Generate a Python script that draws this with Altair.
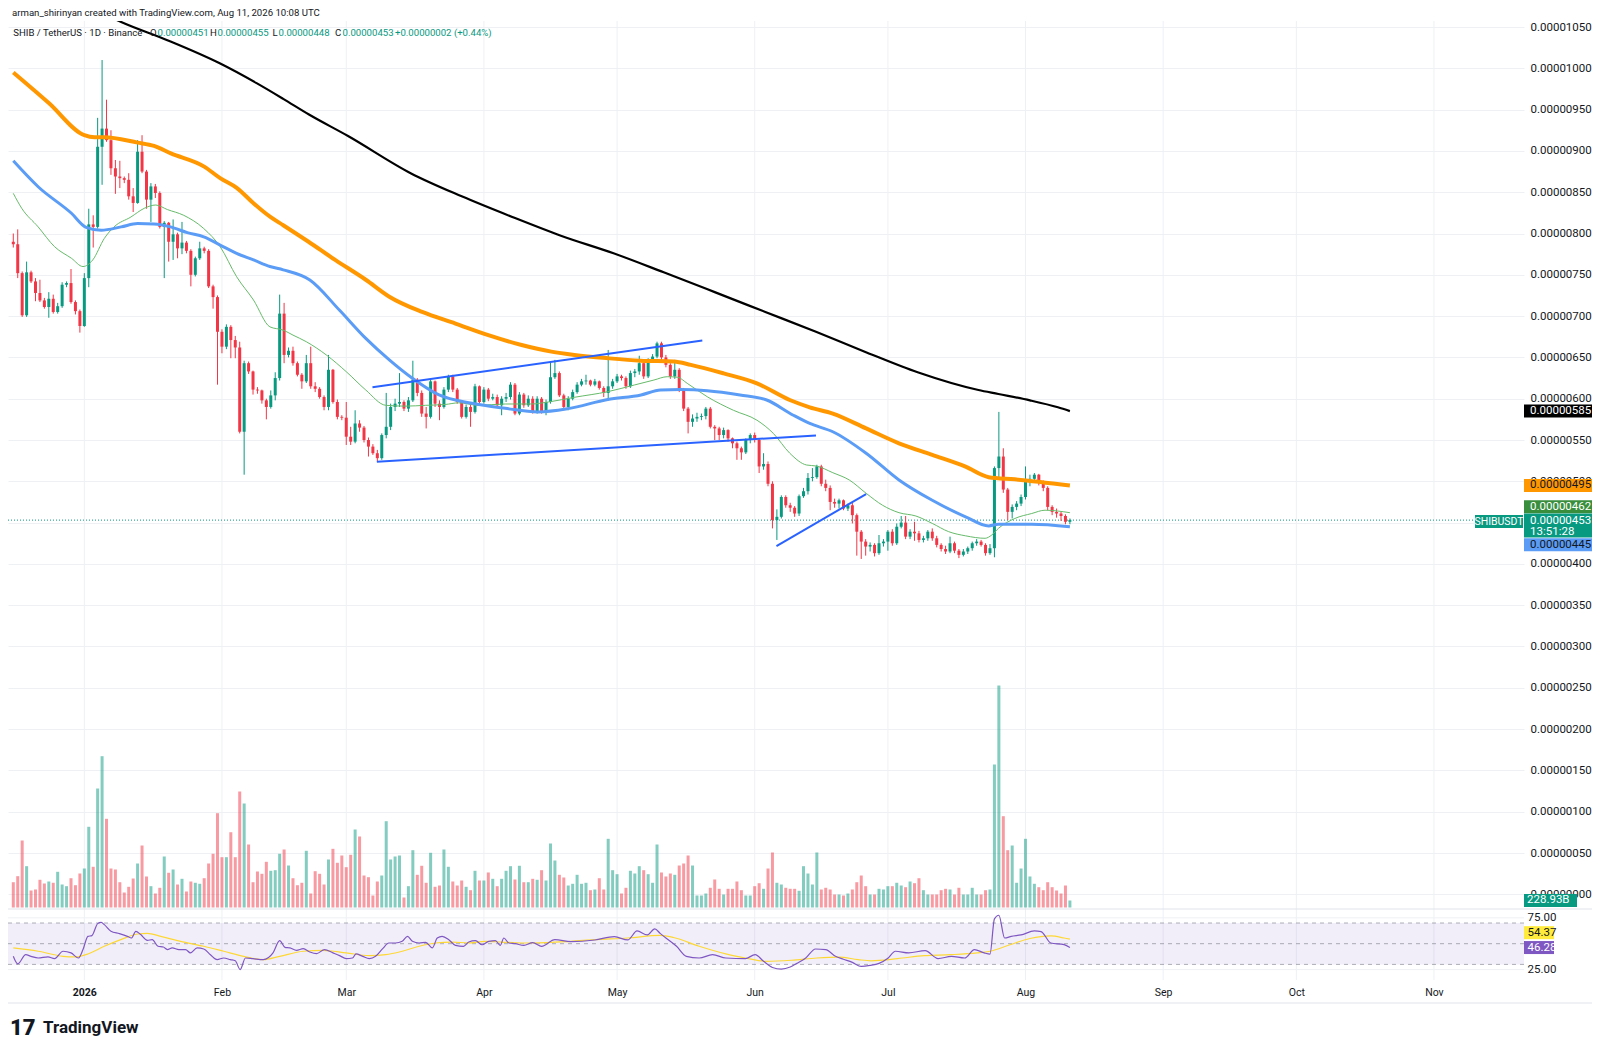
import altair as alt
import pandas as pd

FONT = "Roboto"
TEXT = "#131722"
UP = "#089981"
DOWN = "#f23645"
GRID = "#eef0f4"

W, H = 1516, 959

# ---------------- data (prices in units of 1e-8 USDT) ----------------
FIRST_DAY = -16          # day index relative to 2026-01-01 (=> 2025-12-16)
FIRST_OPEN = 790

close = [
    787, 752, 701, 753, 742, 728, 719, 711, 721, 705,
    712, 738, 740, 717, 706, 688, 746, 811, 808, 905,
    927, 913, 879, 869, 867, 865, 845, 837, 899, 875,
    841, 857, 849, 808, 813, 790, 799, 782, 789, 779,
    750, 770, 782, 779, 736, 723, 681, 663, 687, 671,
    662, 560, 643, 633, 611, 610, 598, 590, 604, 625,
    703, 653, 658, 643, 629, 621, 643, 615, 612, 602,
    590, 635, 596, 578, 577, 554, 548, 570, 565, 550,
    542, 534, 528, 556, 566, 590, 594, 596, 588, 598,
    623, 607, 582, 578, 621, 594, 590, 611, 627, 611,
    596, 578, 590, 584, 615, 596, 611, 600, 602, 592,
    600, 602, 617, 582, 605, 592, 600, 584, 600, 584,
    596, 626, 631, 604, 590, 600, 608, 617, 621, 622,
    617, 621, 613, 607, 615, 621, 627, 625, 615, 631,
    633, 643, 627, 647, 651, 667, 650, 641, 627, 635,
    611, 588, 572, 576, 578, 579, 588, 566, 564, 556,
    562, 552, 546, 540, 535, 550, 556, 550, 518, 521,
    497, 453, 457, 481, 471, 468, 461, 482, 488, 504,
    505, 518, 497, 492, 475, 473, 477, 467, 471, 459,
    439, 427, 421, 423, 413, 425, 427, 439, 425, 445,
    450, 433, 439, 437, 429, 431, 439, 431, 423, 418,
    415, 425, 416, 411, 415, 419, 425, 427, 423, 413,
    419, 516, 530, 490, 463, 469, 473, 481, 502, 503,
    508, 498, 492, 469, 463, 461, 458, 451, 453,
]
high = [
    800, 805, 754, 766, 755, 746, 744, 722, 729, 726,
    716, 741, 742, 757, 719, 708, 752, 830, 822, 940,
    1010, 962, 925, 889, 888, 869, 873, 855, 913, 919,
    877, 861, 860, 851, 815, 814, 817, 801, 814, 791,
    781, 772, 790, 784, 781, 738, 725, 684, 690, 689,
    676, 669, 646, 645, 634, 614, 611, 600, 610, 632,
    726, 716, 662, 663, 645, 631, 653, 663, 620, 614,
    604, 653, 636, 599, 580, 596, 566, 586, 574, 567,
    553, 545, 538, 558, 607, 594, 600, 631, 598, 602,
    646, 625, 610, 590, 623, 622, 598, 614, 629, 629,
    613, 598, 593, 594, 618, 616, 614, 613, 606, 605,
    603, 607, 620, 619, 608, 607, 604, 603, 603, 602,
    599, 645, 647, 633, 606, 603, 611, 620, 624, 629,
    623, 624, 622, 615, 659, 624, 630, 629, 627, 634,
    636, 652, 645, 649, 654, 669, 669, 653, 643, 647,
    637, 613, 590, 581, 583, 582, 590, 590, 568, 566,
    565, 563, 553, 548, 542, 552, 558, 559, 552, 534,
    524, 500, 466, 483, 483, 474, 470, 484, 492, 510,
    516, 520, 520, 502, 495, 479, 479, 478, 473, 474,
    461, 441, 430, 426, 425, 435, 430, 441, 442, 449,
    458, 458, 442, 451, 440, 434, 441, 443, 434, 425,
    422, 433, 427, 418, 418, 421, 427, 430, 429, 425,
    424, 518, 584, 540, 492, 472, 476, 484, 518, 508,
    510, 509, 501, 494, 471, 467, 463, 460, 455,
]
low = [
    783, 746, 699, 699, 740, 718, 717, 709, 698, 703,
    703, 710, 735, 715, 702, 680, 687, 735, 783, 806,
    859, 911, 871, 848, 855, 861, 841, 826, 836, 873,
    830, 814, 843, 806, 746, 766, 768, 770, 775, 776,
    736, 748, 768, 776, 734, 709, 617, 655, 660, 649,
    649, 558, 508, 630, 605, 606, 594, 575, 588, 598,
    622, 643, 650, 640, 627, 612, 619, 612, 608, 600,
    586, 586, 594, 575, 574, 544, 544, 546, 560, 547,
    530, 532, 524, 526, 552, 562, 585, 590, 585, 584,
    596, 603, 578, 564, 576, 590, 574, 588, 608, 608,
    594, 576, 576, 566, 582, 592, 594, 597, 598, 590,
    580, 596, 599, 580, 580, 589, 590, 582, 582, 582,
    580, 594, 624, 602, 586, 586, 598, 606, 615, 617,
    615, 615, 611, 602, 598, 612, 619, 622, 612, 613,
    626, 629, 624, 625, 644, 649, 645, 638, 624, 624,
    608, 585, 558, 566, 572, 574, 575, 564, 550, 550,
    552, 548, 540, 526, 526, 533, 546, 547, 510, 514,
    494, 443, 429, 455, 468, 463, 457, 458, 480, 484,
    500, 503, 494, 488, 465, 468, 467, 465, 464, 449,
    410, 406, 410, 415, 409, 411, 421, 416, 422, 423,
    443, 430, 430, 428, 426, 426, 428, 428, 420, 415,
    412, 413, 413, 407, 409, 412, 416, 422, 421, 410,
    411, 408, 505, 486, 453, 455, 465, 470, 478, 494,
    498, 495, 488, 465, 459, 456, 452, 448, 448,
]
volume_b = [
    827, 1024, 2191, 1351, 556, 589, 906, 785, 850, 808,
    1167, 752, 697, 958, 729, 1112, 1275, 2639, 1331, 3891,
    4948, 2900, 1275, 1243, 827, 490, 677, 948, 1439, 2027,
    1014, 697, 458, 644, 1668, 1135, 1243, 752, 938, 523,
    850, 808, 775, 958, 1439, 1756, 3084, 1645, 1645, 2462,
    1645, 3793, 3401, 2060, 827, 1177, 1102, 1494, 1200, 1220,
    1756, 1897, 1373, 958, 729, 808, 1854, 458, 1187, 1102,
    752, 1570, 1919, 1462, 1700, 1318, 1723, 2551, 2322, 1046,
    991, 392, 850, 1046, 2822, 1570, 1668, 1700, 327, 697,
    1874, 1069, 1364, 808, 1789, 677, 719, 1897, 1331, 850,
    719, 883, 677, 566, 1200, 883, 883, 1145, 938, 697,
    938, 1200, 1351, 916, 1364, 827, 827, 938, 906, 1220,
    883, 2093, 1537, 1069, 981, 719, 775, 1069, 775, 808,
    566, 589, 958, 589, 2246, 1220, 1089, 458, 644, 1200,
    1112, 1351, 1220, 1089, 808, 2060, 1145, 1014, 1112, 1069,
    1373, 1439, 1700, 1373, 392, 392, 458, 644, 916, 611,
    425, 611, 611, 850, 566, 392, 392, 697, 795, 611,
    1275, 1799, 808, 752, 644, 611, 611, 546, 1351, 1112,
    752, 1799, 589, 644, 589, 425, 425, 392, 458, 589,
    827, 1046, 697, 425, 425, 611, 589, 697, 697, 808,
    719, 664, 850, 795, 958, 566, 425, 425, 425, 566,
    611, 589, 425, 644, 425, 425, 644, 425, 425, 566,
    589, 4676, 7259, 2986, 1874, 2027, 808, 1275, 2246, 1014,
    775, 664, 566, 827, 664, 556, 458, 719, 228.93,
]

# moving averages (day index, price)
ma200_d = [-16, -8, 0, 8.3, 18.7, 30.5, 38.8, 44.8, 50.6, 59.4, 73.5, 85, 96.4, 107.5, 119.2,
           130.5, 142, 153.4, 164.8, 176.2, 187.7, 201.4, 205.9, 213, 219.3, 222]
ma200_p = [1115, 1096, 1078, 1056, 1034, 1006, 982, 963, 944, 918, 873, 845, 820, 797, 776,
           753, 729, 705, 681, 656, 632, 610.5, 605.7, 598, 589.6, 585]
ma100_d = [-16, -8, 0, 2.3, 4.5, 12, 15.7, 19.5, 27, 30.6, 34.4, 38.1, 41.9, 44.8, 50.5, 56.5,
           63.4, 68.7, 76.1, 83.6, 91, 98.5, 105.2, 110.4, 117.9, 125.3, 132.8, 136.6, 144,
           151.5, 158.9, 163.4, 168.6, 176.1, 183.5, 191, 198.5, 203.7, 209.6, 222]
ma100_p = [995, 958, 919, 916.5, 916.5, 910, 906, 897, 881, 867, 855, 836.6, 820, 810, 790, 768,
           744, 723.5, 705, 691, 677, 665, 657, 653, 649, 646, 645, 641, 630.7,
           618.6, 598.4, 589.6, 582, 564, 546, 532, 517.7, 505, 502.4, 495]
ma50_d = [-16, -10.4, -2.9, 0.4, 3.8, 8.3, 12, 15.7, 19.4, 23.2, 26.9, 30.6, 34.3, 38.1, 41.8,
          44.8, 50.8, 57.5, 63.4, 68.7, 73.9, 79.9, 87.3, 94.8, 102.2, 109, 117.9, 125.4,
          129.8, 134.3, 140.3, 147.7, 153.7, 159.7, 163.4, 168.6, 176.1, 183.5, 191, 198.5,
          203.7, 205.9, 213.4, 222]
ma50_p = [888, 856.6, 824.5, 807.5, 804, 808, 812, 811.5, 808, 801, 796, 786, 776, 768, 760,
          756, 743.7, 707, 673, 647, 624.7, 604.5, 594.4, 588.4, 584, 588, 599, 604.5,
          610.5, 611, 609.7, 604.5, 598.4, 580, 570, 560, 534, 501.6, 477, 457,
          446, 448, 448, 445]
ma20_d = [-16, -14.1, -10.4, -6.7, -2.9, -0.3, 1.9, 4.5, 6.7, 10.5, 13.5, 16.1, 18.7, 22.4,
          26.9, 30.6, 34.3, 38.1, 41.8, 44.8, 47, 50, 54.5, 59, 63.4, 67.9, 72.4, 76.9, 81.3,
          84.3, 88.8, 94.8, 100.7, 104.5, 110.4, 117.9, 123.9, 128.3, 131.3, 133.6, 135.8,
          140.3, 146.2, 151.5, 155.2, 158.9, 162.7, 164.9, 168.6, 172.3, 176.1, 179.8, 183.5,
          187.3, 191, 194.7, 198.5, 202.9, 204.4, 205.9, 209.6, 213.4, 216.4, 222]
ma20_p = [848.6, 830.5, 808, 784, 770, 760, 768, 794, 808, 820, 830.5, 834.5, 829, 822,
          806, 784, 747.7, 719.5, 687, 683, 677, 669, 653, 632.7, 610.5, 592, 591, 592, 593,
          595, 592, 593.6, 593.6, 596, 601.7, 608.5, 616.6, 622.6, 626.6, 626, 618.6,
          602.4, 586, 574, 558, 534, 519.7, 518.5, 510.4, 501.6, 485.5, 471, 462,
          458, 449, 439, 434, 431, 435, 443, 455, 461, 465, 462]

# drawn trend lines (id, day, price)
trend_id = ["up", "up", "low", "low", "small", "small"]
trend_d = [64.9, 139.2, 65.9, 164.8, 155.9, 176.1]
trend_p = [614, 670.5, 523.7, 555.5, 421.6, 484.6]

rsi_d = [-16, -15, -13.2, -12, -10.4, -8.2, -6.7, -4.8, -3, -1.3,
         -0.3, 0.8, 1.7, 3, 3.8, 4.5, 6, 7.9, 9.7, 10.6,
         11.6, 12.7, 14.2, 15.3, 16.6, 17.8, 18.7, 19.8, 21.3, 22.8,
         23.9, 25.4, 26.9, 28.4, 29.9, 31.4, 32.9, 34, 35.1, 36.3,
         38, 40.3, 42.5, 44, 45.2, 46.3, 47.8, 49.3, 50.8, 52.3,
         54.1, 56, 57.5, 59, 60.4, 61.2, 62.7, 64.2, 65.6, 67.2,
         68.6, 70.1, 71.6, 72.8, 73.9, 75.4, 76.9, 78.4, 79.5, 80.6,
         82.1, 83.6, 85.4, 86.6, 88.1, 89.6, 91.1, 92.6, 93.7, 94.5,
         95.6, 97.1, 99, 101, 103, 106, 109.6, 115, 119.4, 122.4,
         124.5, 126.8, 128.5, 129.7, 131, 133.4, 135.6, 138.5, 141.5, 144.5,
         148.9, 151.1, 153, 155, 157, 159, 160.5, 162.5, 164.7, 167,
         169.2, 171, 173, 175, 177, 179, 181, 182.7, 185.7, 189.4,
         192.3, 195.3, 198.3, 200.5, 202.7, 204, 205, 206, 207.3, 208.8,
         211, 214, 215.5, 217.7, 220.7, 222]
rsi_v = [37.8, 30.5, 39.4, 37.8, 36.2, 37.2, 35.6, 42.7, 41.1, 36.2,
         44.3, 57.1, 57.8, 69.4, 70.6, 68.4, 62, 59.7, 57.1, 55.5,
         62, 58.8, 53.3, 53.9, 47.5, 46.8, 44.3, 45.9, 44.3, 44.3,
         41.1, 45.9, 44.9, 39.4, 34.6, 36.2, 34.6, 33.5, 25, 36.2,
         35.5, 34.6, 41.1, 52.9, 46.5, 45.9, 43.6, 45.2, 42, 40.4,
         44.3, 41.1, 38.5, 35.6, 36.2, 40.1, 37.8, 35.6, 37.8, 45.2,
         50.7, 50.7, 52.3, 57.1, 52.3, 50.7, 51.3, 45.9, 55.5, 57.1,
         53.9, 48.4, 47.5, 51.6, 52.9, 49, 52.3, 52.9, 48.4, 55.5,
         50.7, 50, 48.4, 51, 47.5, 54, 52, 53.6, 56.8, 53.6,
         62.3, 58.5, 64.3, 60, 55.5, 47.5, 37.8, 36.2, 39.4, 36.2,
         35.6, 39.4, 33, 27, 25.5, 27.5, 31, 36.2, 44.9, 44.3,
         37.8, 35, 32, 28, 29, 31, 36, 42.7, 41.1, 43.3,
         35.6, 37.8, 36.2, 44.3, 41.1, 40, 74, 77.5, 55.5, 57.1,
         58.5, 62.3, 61.7, 50.7, 49.1, 46.28]
rsima_d = [-16, -10.4, -4.8, -2.2, 0.8, 4.5, 8.2, 12, 14.2, 17.2,
           21.7, 26.9, 31.4, 35.9, 40.3, 44, 49.3, 53.7, 59, 64.2,
           67.9, 71.6, 75.4, 79.1, 82.8, 86.6, 90.3, 94, 98.5, 101,
           109.6, 115, 122.4, 129.7, 132.7, 138.5, 144.5, 148.9, 153.4, 159.3,
           165, 170, 174.3, 177.2, 183.2, 189.2, 195.1, 201.1, 204, 208.5,
           213, 217.7, 220.7, 222]
rsima_v = [45.9, 42.7, 37.8, 37.2, 40.1, 47.5, 53.9, 59.4, 60, 57.1,
           52.3, 47.5, 42.7, 37.8, 34.6, 37.8, 42.7, 43.6, 41.1, 38.5,
           39.4, 42.7, 47.5, 50.7, 51.6, 50.7, 52.3, 51.6, 50.7, 50.7,
           52.3, 53.9, 55.5, 58, 56, 47.5, 40.1, 36.2, 33, 34,
           36.2, 37, 34.6, 33.5, 35.6, 38.5, 39.4, 41.1, 42.7, 49,
           55, 57.5, 55.5, 54.37]

MONTH_DAYS = [0, 31, 59, 90, 120, 151, 181, 212, 243, 273, 304]
MONTH_LABELS = ["2026", "Feb", "Mar", "Apr", "May", "Jun", "Jul", "Aug", "Sep", "Oct", "Nov"]
PRICE_TICKS = [0, 50, 100, 150, 200, 250, 300, 350, 400, 450, 500, 550, 600, 650, 700,
               750, 800, 850, 900, 950, 1000, 1050]
RSI_TICKS = [75, 25]
RSI_LEVELS = [70, 50, 30]

LAST_PRICE = 453
LAST_VOLUME = 228.93
COUNTDOWN = "13:51:28"

# ---------------- tables ----------------
n = len(close)
assert len(high) == n and len(low) == n and len(volume_b) == n
days = list(range(FIRST_DAY, FIRST_DAY + n))
opens = [FIRST_OPEN] + close[:-1]
direction = ["up" if c >= o else "down" for o, c in zip(opens, close)]
candles = pd.DataFrame({"d": days, "o": opens, "h": high, "l": low, "c": close,
                        "v": volume_b, "base": [0] * n, "dir": direction})

x_scale = alt.Scale(domain=[-16.066, 323.16], nice=False, zero=False)
price_scale = alt.Scale(domain=[0, 1050], range=[873.3, 6.0], nice=False, zero=False)
vol_scale = alt.Scale(domain=[0, 10000], range=[886.5, 580.7], nice=False, zero=False)
rsi_scale = alt.Scale(domain=[0, 100], range=[974.45, 870.95], nice=False, zero=False)
color_scale = alt.Scale(domain=["up", "down"], range=[UP, DOWN])

label_expr = "".join(f"datum.value == {d} ? '{l}' : " for d, l in zip(MONTH_DAYS, MONTH_LABELS)) + "''"
x_axis = alt.Axis(values=MONTH_DAYS, labelExpr=label_expr, title=None, ticks=False,
                  domain=False, grid=False,
                  labelColor=TEXT, labelFont=FONT, labelFontSize=10.5, labelPadding=7,
                  labelOverlap=False, labelFlush=False,
                  labelFontWeight={"condition": {"test": "datum.value == 0", "value": "bold"},
                                   "value": "normal"})
price_axis = alt.Axis(orient="right", values=PRICE_TICKS,
                      labelExpr="format(datum.value / 100000000, '.8f')", title=None,
                      ticks=False, domain=False, grid=True, gridColor=GRID,
                      labelColor=TEXT, labelFont=FONT, labelFontSize=11.5, labelPadding=6,
                      labelOverlap=False, labelBound=False)

X = alt.X("d:Q", scale=x_scale, axis=x_axis)
COLOR = alt.Color("dir:N", scale=color_scale, legend=None)

# vertical month grid lines spanning all panes
month_grid = alt.Chart(pd.DataFrame({"d": MONTH_DAYS})).mark_rule(color=GRID).encode(
    x=X, y=alt.value(0), y2=alt.value(H))

volume = alt.Chart(candles).mark_bar(size=3, opacity=0.5).encode(
    x=X, y=alt.Y("v:Q", scale=vol_scale, axis=None), y2="base:Q", color=COLOR)

wicks = alt.Chart(candles).mark_rule(strokeWidth=1, clip=True).encode(
    x=X, y=alt.Y("l:Q", scale=price_scale, axis=price_axis), y2="h:Q", color=COLOR)
bodies = alt.Chart(candles).mark_bar(size=3, clip=True).encode(
    x=X, y=alt.Y("o:Q", scale=price_scale, axis=None), y2="c:Q", color=COLOR)


def line_layer(ds, vs, scale, color, width):
    df = pd.DataFrame({"d": ds, "p": vs})
    return alt.Chart(df).mark_line(color=color, strokeWidth=width, interpolate="monotone",
                                   clip=True).encode(
        x=X, y=alt.Y("p:Q", scale=scale, axis=None))


ma20 = line_layer(ma20_d, ma20_p, price_scale, "#66bb6a", 1)
ma50 = line_layer(ma50_d, ma50_p, price_scale, "#5b9cf6", 3)
ma100 = line_layer(ma100_d, ma100_p, price_scale, "#ff9800", 4)
ma200 = line_layer(ma200_d, ma200_p, price_scale, "#000000", 2.2)

trend = alt.Chart(pd.DataFrame({"id": trend_id, "d": trend_d, "p": trend_p})).mark_line(
    color="#2962ff", strokeWidth=2).encode(
    x=X, y=alt.Y("p:Q", scale=price_scale, axis=None), detail="id:N")

price_line = alt.Chart(pd.DataFrame({"p": [LAST_PRICE]})).mark_rule(
    color=UP, strokeDash=[1, 2], strokeWidth=1).encode(
    y=alt.Y("p:Q", scale=price_scale, axis=None), x=alt.value(0), x2=alt.value(1466))

rsi_grid = alt.Chart(pd.DataFrame({"lvl": RSI_TICKS})).mark_rule(color=GRID).encode(
    x=alt.value(0), x2=alt.value(W), y=alt.Y("lvl:Q", scale=rsi_scale, axis=None))
rsi_band = alt.Chart(pd.DataFrame({"hi": [70], "lo": [30]})).mark_rect(
    color="#7e57c2", opacity=0.1).encode(
    x=alt.value(0), x2=alt.value(W), y=alt.Y("hi:Q", scale=rsi_scale, axis=None), y2="lo:Q")
rsi_rules = alt.Chart(pd.DataFrame({"lvl": RSI_LEVELS})).mark_rule(
    color="#787b86", strokeDash=[4, 4], opacity=0.6).encode(
    x=alt.value(0), x2=alt.value(W), y=alt.Y("lvl:Q", scale=rsi_scale, axis=None))
rsi_ma = line_layer(rsima_d, rsima_v, rsi_scale, "#fdd835", 1.2)
rsi = line_layer(rsi_d, rsi_v, rsi_scale, "#7e57c2", 1.2)

borders = alt.Chart(pd.DataFrame({"yy": [888, 982]})).mark_rule(color="#e0e3eb").encode(
    x=alt.value(0), x2=alt.value(W + 68), y=alt.Y("yy:Q", scale=None))


def tag_rect(values, scale, cx, w, h, fill, yoff=0):
    r = h / w
    path = f"M-1,{-r:.4f}L1,{-r:.4f}L1,{r:.4f}L-1,{r:.4f}Z"
    return alt.Chart(pd.DataFrame({"v": values})).mark_point(
        shape=path, size=w * w, filled=True, fill=fill, opacity=1, strokeWidth=0,
        yOffset=yoff).encode(x=alt.value(cx), y=alt.Y("v:Q", scale=scale, axis=None))


def tag_text(values, labels, scale, x, color, dy=0, size=11.5, align="left", weight="normal"):
    return alt.Chart(pd.DataFrame({"v": values, "t": labels})).mark_text(
        align=align, baseline="middle", font=FONT, fontSize=size, color=color, dy=dy,
        fontWeight=weight).encode(
        x=alt.value(x), y=alt.Y("v:Q", scale=scale, axis=None), text="t:N")


def fmt(p):
    return f"{p / 1e8:.8f}"


tags = []
price_tags = [  # value, fill, text colour, vertical shift
    (ma200_p[-1], "#000000", "#ffffff", 0),
    (ma100_p[-1], "#ff9800", TEXT, 0),
    (ma20_p[-1], "#388e3c", "#ffffff", -6),
    (ma50_p[-1], "#5b9cf6", TEXT, 18),
]
for v, fill, tcol, off in price_tags:
    tags.append(tag_rect([v], price_scale, 1550, 68, 13, fill, off))
    tags.append(tag_text([v], [fmt(v)], price_scale, 1522, tcol, off))
tags.append(tag_rect([LAST_PRICE], price_scale, 1550, 68, 24, UP, 5.5))
tags.append(tag_text([LAST_PRICE], [fmt(LAST_PRICE)], price_scale, 1522, "#ffffff", 0.5))
tags.append(tag_text([LAST_PRICE], [COUNTDOWN], price_scale, 1522, "#ffffff", 12))
tags.append(tag_rect([LAST_PRICE], price_scale, 1491, 48, 13, UP, 1.5))
tags.append(tag_text([LAST_PRICE], ["SHIBUSDT"], price_scale, 1491, "#ffffff", 1.5,
                     size=10.5, align="center"))
# volume tag
tags.append(tag_rect([LAST_VOLUME], vol_scale, 1542.5, 53, 13, UP, 0))
tags.append(tag_text([LAST_VOLUME], [f"{LAST_VOLUME:.2f}B"], vol_scale, 1519, "#ffffff", 0))
# RSI scale labels and tags
tags.append(tag_text(RSI_TICKS, [f"{t:.2f}" for t in RSI_TICKS], rsi_scale, 1519.5, TEXT, 0))
tags.append(tag_rect([rsima_v[-1]], rsi_scale, 1531, 30, 13, "#ffeb3b", -6.5))
tags.append(tag_text([rsima_v[-1]], [f"{rsima_v[-1]:.2f}"], rsi_scale, 1519.5, TEXT, -6.5))
tags.append(tag_rect([rsi_v[-1]], rsi_scale, 1531, 30, 13, "#7e57c2", 0))
tags.append(tag_text([rsi_v[-1]], [f"{rsi_v[-1]:.2f}"], rsi_scale, 1519.5, "#ffffff", 0))


def free_text(text, x, y, size=10, color=TEXT, weight="normal", align="left"):
    return alt.Chart(pd.DataFrame({"t": [text]})).mark_text(
        align=align, baseline="middle", font=FONT, fontSize=size, color=color,
        fontWeight=weight).encode(x=alt.value(x), y=alt.value(y), text="t:N")


header = [free_text("arman_shirinyan created with TradingView.com, Aug 11, 2026 10:08 UTC",
                    4, -8, size=9.6)]
legend_parts = [
    ("SHIB / TetherUS · 1D · Binance", 5.3, TEXT),
    ("O", 142, TEXT), ("0.00000451", 149.5, UP),
    ("H", 202, TEXT), ("0.00000455", 209.5, UP),
    ("L", 264.5, TEXT), ("0.00000448", 270.5, UP),
    ("C", 327, TEXT), ("0.00000453", 334.5, UP),
    ("+0.00000002 (+0.44%)", 387, UP),
]
for t, x, c in legend_parts:
    header.append(free_text(t, x, 11.6, size=9.6, color=c))
header.append(free_text("17", 2, 1006.5, size=22, weight=900))
header.append(free_text("TradingView", 35, 1006.5, size=17, weight="bold"))

chart = alt.layer(
    month_grid, volume, rsi_grid, rsi_band, rsi_rules, rsi_ma, rsi, borders, price_line,
    wicks, bodies, ma20, ma50, ma100, ma200, trend, *tags, *header
).resolve_scale(y="independent").properties(
    width=W, height=H,
    padding={"left": 0, "top": 13, "right": 68, "bottom": 64},
    autosize=alt.AutoSizeParams(type="none"),
    background="#ffffff",
).configure_view(strokeWidth=0)

chart.save("out.html", embed_options={"renderer": "svg", "actions": False})
